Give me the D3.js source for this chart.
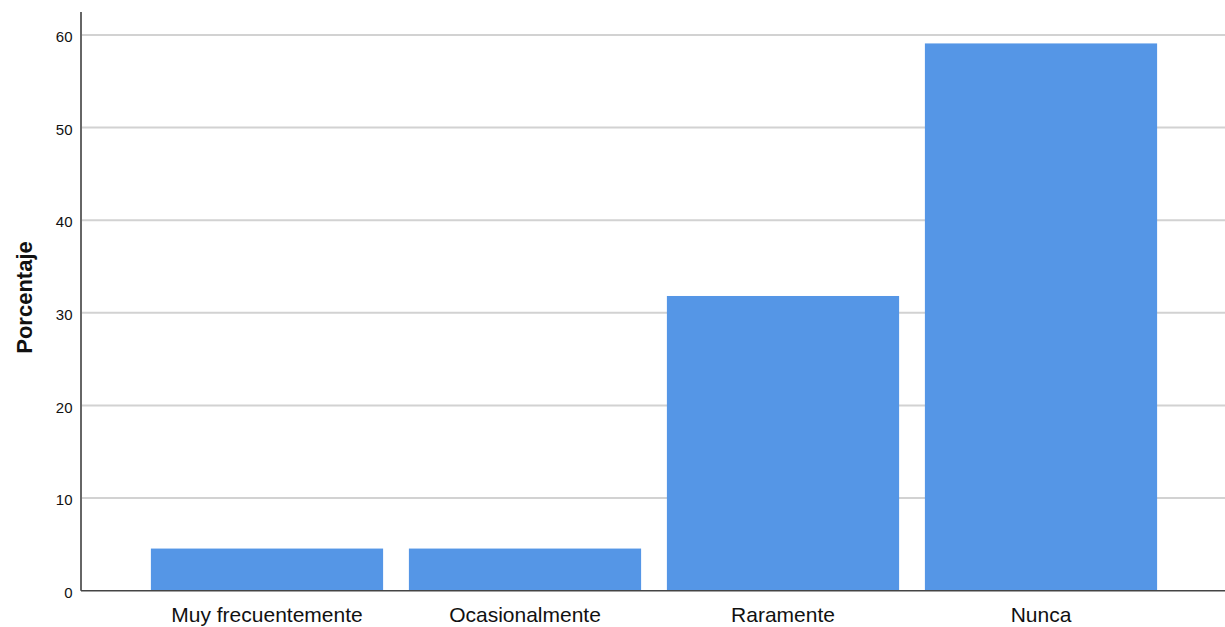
<!DOCTYPE html>
<html>
<head>
<meta charset="utf-8">
<script src="https://d3js.org/d3.v7.min.js"></script>
<style>
  html, body { margin: 0; padding: 0; background: #fff; }
  svg { display: block; }
</style>
</head>
<body>
<svg id="chart" width="1225" height="627"></svg>
<script>
// Response categories and their percentages
const categories = ["Muy frecuentemente", "Ocasionalmente", "Raramente", "Nunca"];
const percentages = [4.55, 4.55, 31.82, 59.09];
const yTicks = [0, 10, 20, 30, 40, 50, 60];

const svg = d3.select("#chart");
const plotLeft = 81, plotRight = 1225, plotTop = 12, plotBottom = 590.7;

const x = d3.scaleBand()
  .domain(categories)
  .range([138, 1170])
  .paddingInner(0.1)
  .paddingOuter(0.05);

const y = d3.scaleLinear()
  .domain([0, 60])
  .range([plotBottom, 35]);

// Horizontal gridlines
svg.append("g")
  .selectAll("line")
  .data(yTicks.filter(d => d > 0))
  .join("line")
  .attr("x1", plotLeft).attr("x2", plotRight)
  .attr("y1", d => y(d)).attr("y2", d => y(d))
  .attr("stroke", "#d2d2d2")
  .attr("stroke-width", 2);

// Bars
svg.append("g")
  .selectAll("rect")
  .data(categories)
  .join("rect")
  .attr("x", d => x(d))
  .attr("width", x.bandwidth())
  .attr("y", (d, i) => y(percentages[i]))
  .attr("height", (d, i) => plotBottom - y(percentages[i]))
  .attr("fill", "#5596e6");

// Y axis
const yAxis = svg.append("g")
  .attr("transform", `translate(${plotLeft},0)`)
  .call(d3.axisLeft(y).tickValues(yTicks).tickSize(0).tickPadding(8.5));
yAxis.select(".domain").attr("stroke", "#666").attr("stroke-width", 2)
  .attr("d", `M0,${plotTop}V${plotBottom}`);
yAxis.selectAll("text")
  .attr("font-family", "Arial, 'Liberation Sans', sans-serif")
  .attr("font-size", 15)
  .attr("dy", "0.45em")
  .attr("fill", "#111");

// X axis
const xAxis = svg.append("g")
  .attr("transform", `translate(0,${plotBottom})`)
  .call(d3.axisBottom(x).tickSize(0).tickPadding(16));
xAxis.select(".domain").attr("stroke", "#444").attr("stroke-width", 1.5)
  .attr("d", `M${plotLeft},0H${plotRight}`);
xAxis.selectAll("text")
  .attr("font-family", "Arial, 'Liberation Sans', sans-serif")
  .attr("font-size", 21)
  .attr("fill", "#111");

// Y axis title
svg.append("text")
  .attr("transform", `translate(31.5,297.5) rotate(-90)`)
  .attr("text-anchor", "middle")
  .attr("font-family", "Arial, 'Liberation Sans', sans-serif")
  .attr("font-weight", "bold")
  .attr("font-size", 22)
  .attr("fill", "#111")
  .text("Porcentaje");
</script>
</body>
</html>
